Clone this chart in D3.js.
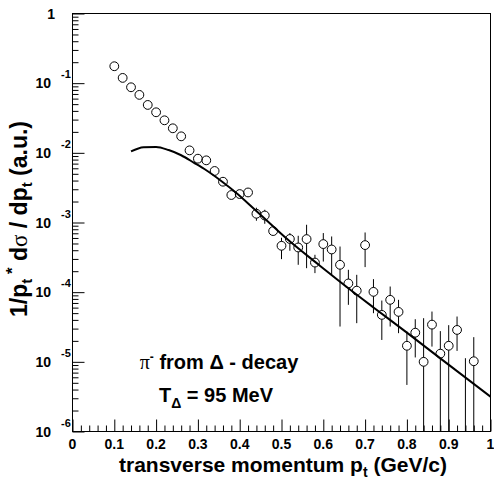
<!DOCTYPE html>
<html lang="en">
<head>
<meta charset="utf-8">
<script src="https://d3js.org/d3.v7.min.js"></script>
<style>
  body { margin: 0; background: #fff; }
  svg text { font-family: "Liberation Sans", Arial, sans-serif; font-weight: bold; fill: #000; }
  svg .sym { font-family: "Liberation Serif", "DejaVu Serif", serif; font-weight: normal; }
</style>
</head>
<body>
<script>
// measured pi- spectrum
const pt = [0.10, 0.12, 0.14, 0.16, 0.18, 0.20, 0.22, 0.24, 0.26, 0.28, 0.30, 0.32, 0.34, 0.36, 0.38,
            0.40, 0.42, 0.44, 0.46, 0.48, 0.50, 0.52, 0.54, 0.56, 0.58, 0.60, 0.62, 0.64, 0.66, 0.68,
            0.70, 0.72, 0.74, 0.76, 0.78, 0.80, 0.82, 0.84, 0.86, 0.88, 0.90, 0.92, 0.94, 0.96];
const yieldVal = [0.175, 0.119, 0.0873, 0.0679, 0.0487, 0.0382, 0.0293, 0.0225, 0.01725, 0.01085,
                  0.00824, 0.0078, 0.00549, 0.00385, 0.00248, 0.00256, 0.0027, 0.001335, 0.00126, 0.000753,
                  0.000463, 0.00058, 0.000438, 0.000578, 0.000266, 0.00049, 0.00041, 0.000247, 0.0001334, 0.0001051,
                  0.000474, 0.000101, 4.72e-5, 7.76e-5, 5.21e-5, 1.70e-5, 2.62e-5, 1.00e-5, 3.42e-5, 1.31e-5,
                  1.70e-5, 2.87e-5, 4e-7, 1.02e-5];
// ends of the error bars (null = hidden by marker, 0 = goes to zero)
const errUp = [null, null, null, null, null, null, null, null, null, null,
               null, null, null, null, null, null, null, 0.00163, 0.001524, null,
               0.000604, 0.000705, 0.000645, 0.000928, 0.000344, 0.000705, 0.00063, 0.000452, 0.0002094, 0.0001774,
               0.000719, 0.0001538, 7.58e-5, 0.0001205, 7.76e-5, 2.72e-5, 4.09e-5, 4.23e-5, 5.27e-5, 2.76e-5,
               3.36e-5, 4.47e-5, 1.127e-5, 2.26e-5];
const errDown = [null, null, null, null, null, null, null, null, null, null,
                 null, null, null, null, null, null, null, 0.00106, 0.000959, null,
                 0.000298, 0.000393, 0.000247, 0.000221, 0.0001877, 0.000275, 0.0001774, 3.21e-5, 6.58e-5, 3.59e-5,
                 0.000229, 4.99e-5, 2.06e-5, 3.21e-5, 2.58e-5, 4.66e-6, 1.156e-5, 0, 1.654e-5, 0,
                 0, 1.435e-5, 0, 0];

// Delta decay model curve
const curvePt = [0.14, 0.17, 0.20, 0.23, 0.26, 0.29, 0.32, 0.355, 0.39, 0.43, 0.47, 0.51, 0.59, 0.64, 0.72, 0.80, 0.88, 1.00];
const curveVal = [0.01047, 0.01202, 0.01216, 0.01096, 0.00923, 0.00724, 0.00562, 0.00398, 0.00272, 0.00166,
                  0.00100, 0.000603, 0.000245, 0.000141, 6.03e-5, 2.63e-5, 1.12e-5, 3.16e-6];

const xTicks = [0, 0.1, 0.2, 0.3, 0.4, 0.5, 0.6, 0.7, 0.8, 0.9, 1];
const xTickLabels = ["0", "0.1", "0.2", "0.3", "0.4", "0.5", "0.6", "0.7", "0.8", "0.9", "1"];
const yTickExp = [0, -1, -2, -3, -4, -5, -6];

const width = 494, height = 481;
const pLeft = 72.5, pRight = 490.5, pTop = 13.5, pBottom = 431.5;

const svg = d3.select("body").append("svg")
    .attr("width", width)
    .attr("height", height);

const x = d3.scaleLinear().domain([0, 1]).range([pLeft, pRight]);
const y = d3.scaleLog().domain([1e-6, 1]).range([pBottom, pTop]);

svg.append("clipPath").attr("id", "plot")
    .append("rect")
    .attr("x", pLeft).attr("y", pTop)
    .attr("width", pRight - pLeft).attr("height", pBottom - pTop);

// ticks, drawn inside the frame
const minorX = x.ticks(50).filter(d => !xTicks.some(t => Math.abs(t - d) < 1e-6));
svg.append("g").attr("transform", "translate(0," + pBottom + ")")
    .call(d3.axisTop(x).tickValues(minorX).tickSize(6).tickFormat(""))
    .call(g => g.select(".domain").remove());
svg.append("g").attr("transform", "translate(0," + pBottom + ")")
    .call(d3.axisTop(x).tickValues(xTicks).tickSize(12).tickFormat(""))
    .call(g => g.select(".domain").remove());

const majorY = yTickExp.map(e => Math.pow(10, e));
const minorY = y.ticks().filter(d => !majorY.some(m => Math.abs(Math.log10(d) - Math.log10(m)) < 1e-6));
svg.append("g").attr("transform", "translate(" + pLeft + ",0)")
    .call(d3.axisRight(y).tickValues(minorY).tickSize(6).tickFormat(""))
    .call(g => g.select(".domain").remove());
svg.append("g").attr("transform", "translate(" + pLeft + ",0)")
    .call(d3.axisRight(y).tickValues(majorY).tickSize(12).tickFormat(""))
    .call(g => g.select(".domain").remove());

svg.selectAll(".tick line").attr("stroke", "#000");

// frame
svg.append("rect")
    .attr("x", pLeft).attr("y", pTop)
    .attr("width", pRight - pLeft).attr("height", pBottom - pTop)
    .attr("fill", "none").attr("stroke", "#000").attr("stroke-width", 1);

// x tick labels
svg.selectAll(".xlab")
    .data(xTicks)
    .enter()
    .append("text")
    .attr("x", d => x(d))
    .attr("y", 449)
    .attr("text-anchor", "middle")
    .style("font-size", "14px")
    .text((d, i) => xTickLabels[i]);

// y tick labels
yTickExp.forEach(function(e) {
    const yy = y(Math.pow(10, e));
    if (e === 0) {
        svg.append("text").attr("x", 55).attr("y", yy + 5)
            .attr("text-anchor", "end").style("font-size", "14px").text("1");
        return;
    }
    svg.append("text").attr("x", 51).attr("y", yy + 5)
        .attr("text-anchor", "end").style("font-size", "14px").text("10");
    svg.append("text").attr("x", 61).attr("y", yy - 5)
        .style("font-size", "11px").text(String(e));
});

// data
const plot = svg.append("g").attr("clip-path", "url(#plot)");
const r = 4.4;

pt.forEach(function(p, i) {
    const cx = x(p), cy = y(yieldVal[i]);
    if (errUp[i] !== null) {
        const y1 = y(errUp[i]);
        if (y1 < cy - r) {
            plot.append("line").attr("x1", cx).attr("x2", cx)
                .attr("y1", y1).attr("y2", Math.min(cy - r, pBottom + 2))
                .attr("stroke", "#000").attr("stroke-width", 1);
        }
    }
    if (errDown[i] !== null) {
        const y2 = errDown[i] > 0 ? y(errDown[i]) : pBottom + 2;
        if (y2 > cy + r) {
            plot.append("line").attr("x1", cx).attr("x2", cx)
                .attr("y1", cy + r).attr("y2", y2)
                .attr("stroke", "#000").attr("stroke-width", 1);
        }
    }
});

plot.selectAll("circle")
    .data(pt)
    .enter()
    .append("circle")
    .attr("cx", d => x(d))
    .attr("cy", (d, i) => y(yieldVal[i]))
    .attr("r", r)
    .attr("fill", "none")
    .attr("stroke", "#000")
    .attr("stroke-width", 1);

const line = d3.line()
    .x((d, i) => x(d))
    .y((d, i) => y(curveVal[i]))
    .curve(d3.curveMonotoneX);

plot.append("path")
    .datum(curvePt)
    .attr("d", line)
    .attr("fill", "none")
    .attr("stroke", "#000")
    .attr("stroke-width", 2);

// labels inside the plot
const t1 = svg.append("text").attr("x", 219).attr("y", 369)
    .attr("text-anchor", "middle").style("font-size", "20px");
t1.append("tspan").attr("class", "sym").text("\u03c0");
t1.append("tspan").attr("dy", -8).style("font-size", "12px").text("-");
t1.append("tspan").attr("dy", 8).text(" from \u0394 - decay");

const t2 = svg.append("text").attr("x", 216).attr("y", 402)
    .attr("text-anchor", "middle").style("font-size", "20px");
t2.append("tspan").text("T");
t2.append("tspan").attr("dy", 6).style("font-size", "14px").text("\u0394");
t2.append("tspan").attr("dy", -6).text(" = 95 MeV");

// axis titles
const xt = svg.append("text").attr("x", 283).attr("y", 472)
    .attr("text-anchor", "middle").style("font-size", "21px");
xt.append("tspan").text("transverse momentum p");
xt.append("tspan").attr("dy", 5).style("font-size", "14px").text("t");
xt.append("tspan").attr("dy", -5).text(" (GeV/c)");

const yt = svg.append("text")
    .attr("transform", "translate(27,219) rotate(-90)")
    .attr("text-anchor", "middle").style("font-size", "23px");
yt.append("tspan").text("1/p");
yt.append("tspan").attr("dy", 5).style("font-size", "15px").text("t");
yt.append("tspan").attr("dy", -14).style("font-size", "17px").text(" *");
yt.append("tspan").attr("dy", 9).text(" d");
yt.append("tspan").attr("class", "sym").text("\u03c3");
yt.append("tspan").text(" / dp");
yt.append("tspan").attr("dy", 5).style("font-size", "15px").text("t");
yt.append("tspan").attr("dy", -5).text(" (a.u.)");
</script>
</body>
</html>
